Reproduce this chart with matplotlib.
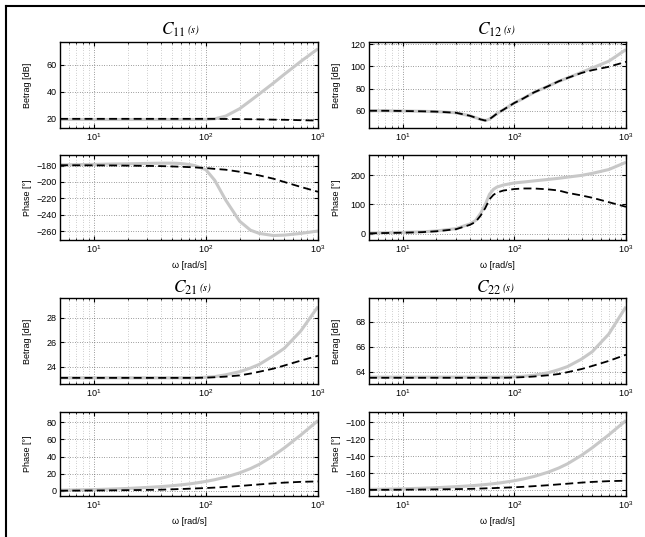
import numpy as np
import matplotlib
matplotlib.use('Agg')
import matplotlib.pyplot as plt
from matplotlib.lines import Line2D

plt.rcParams['font.family'] = ['Liberation Sans', 'DejaVu Sans']
plt.rcParams['font.size'] = 6.5

# frequency points (rad/s)
w = [5, 7, 10, 15, 20, 30, 40, 45, 50, 55, 60, 65, 70, 80, 100, 120, 150,
     200, 250, 300, 400, 500, 700, 1000]

# C11
c11_mag_gray = [19.5, 19.5, 19.5, 19.5, 19.5, 19.5, 19.5, 19.5, 19.5, 19.5, 19.5, 19.5,
                19.5, 19.5, 19.6, 20.0, 22.0, 27.5, 33.5, 38.5, 46.5, 53, 62.5, 72]
c11_mag_black = [20, 20, 20, 20, 20, 20, 20, 20, 20, 20, 20, 20,
                 20, 20, 20, 19.95, 19.9, 19.8, 19.7, 19.6, 19.4, 19.3, 19.0, 18.7]
c11_ph_gray = [-179, -178.8, -178.5, -178, -177.8, -177.3, -177, -177, -177, -177.2, -177.5, -178,
               -178.5, -180, -185, -198, -222, -248, -259, -263, -265.5, -265, -263, -260]
c11_ph_black = [-179.5, -179.6, -179.7, -179.8, -180, -180.3, -180.6, -180.8, -181, -181.2, -181.4, -181.6,
                -181.8, -182.2, -183, -184, -185, -187.5, -190, -192, -196, -200, -206, -212]

# C12
c12_mag_gray = [60, 60, 59.8, 59.5, 59.2, 58.2, 55.5, 53.8, 52.2, 51.2, 52.5, 55,
                57.5, 61, 67, 71, 76.5, 82, 86.5, 89.5, 94.5, 98.5, 104.5, 115]
c12_mag_black = [60, 60, 59.8, 59.5, 59.2, 58.2, 55.5, 53.8, 52.2, 51.2, 52.5, 55,
                 57.5, 61, 67, 71, 76.5, 82, 86.5, 89.5, 94, 96.5, 99.5, 104]
c12_ph_gray = [2, 3, 4, 6, 9, 17, 33, 45, 70, 100, 135, 152,
               160, 167, 174, 177, 181, 186, 190, 194, 200, 207, 220, 245]
c12_ph_black = [1, 2, 3, 5, 8, 15, 30, 40, 62, 88, 118, 133,
                141, 148, 153, 155, 155, 152, 148, 140, 131, 123, 108, 92]

# C21
c21_mag_gray = [23.1, 23.1, 23.1, 23.1, 23.1, 23.1, 23.1, 23.1, 23.1, 23.1, 23.1, 23.1,
                23.1, 23.1, 23.15, 23.2, 23.35, 23.6, 23.9, 24.2, 24.9, 25.5, 26.9, 28.9]
c21_mag_black = [23.1, 23.1, 23.1, 23.1, 23.1, 23.1, 23.1, 23.1, 23.1, 23.1, 23.1, 23.1,
                 23.1, 23.1, 23.12, 23.15, 23.2, 23.3, 23.45, 23.6, 23.85, 24.1, 24.5, 24.9]
c21_ph_gray = [0.8, 1.1, 1.5, 2.2, 2.8, 4, 5, 5.5, 6, 6.5, 7, 7.5,
               8, 9, 11, 13, 16, 21, 26, 31, 41, 50, 65, 82]
c21_ph_black = [0.2, 0.3, 0.4, 0.6, 0.8, 1.1, 1.4, 1.6, 1.8, 2.0, 2.2, 2.3,
                2.5, 2.8, 3.3, 3.8, 4.6, 5.7, 6.7, 7.5, 8.8, 9.6, 10.5, 11]

# C22
c22_mag_gray = [63.55, 63.55, 63.55, 63.55, 63.55, 63.55, 63.55, 63.55, 63.55, 63.55, 63.55, 63.55,
                63.55, 63.55, 63.58, 63.62, 63.7, 63.9, 64.15, 64.4, 65.0, 65.6, 67.0, 69.2]
c22_mag_black = [63.5, 63.5, 63.5, 63.5, 63.5, 63.5, 63.5, 63.5, 63.5, 63.5, 63.5, 63.5,
                 63.5, 63.5, 63.52, 63.55, 63.6, 63.7, 63.8, 63.95, 64.2, 64.45, 64.85, 65.35]
c22_ph_gray = [-179.2, -178.9, -178.5, -177.8, -177.2, -176, -175, -174.5, -174, -173.5, -173, -172.5,
               -172, -171, -169, -167, -164, -159, -154, -149, -139, -130, -115, -98]
c22_ph_black = [-179.8, -179.7, -179.6, -179.4, -179.2, -178.9, -178.6, -178.4, -178.2, -178, -177.8, -177.7,
                -177.5, -177.2, -176.7, -176.2, -175.4, -174.3, -173.3, -172.5, -171.2, -170.4, -169.5, -169]

titles = ['11', '12', '21', '22']
mag_gray = [c11_mag_gray, c12_mag_gray, c21_mag_gray, c22_mag_gray]
mag_black = [c11_mag_black, c12_mag_black, c21_mag_black, c22_mag_black]
ph_gray = [c11_ph_gray, c12_ph_gray, c21_ph_gray, c22_ph_gray]
ph_black = [c11_ph_black, c12_ph_black, c21_ph_black, c22_ph_black]

mag_ylim = [(13.2, 77), (44.5, 121.8), (22.6, 29.6), (63.0, 69.9)]
mag_ticks = [[20, 40, 60], [60, 80, 100, 120], [24, 26, 28], [64, 66, 68]]
ph_ylim = [(-271, -167), (-22, 270), (-6, 92), (-187, -88)]
ph_ticks = [[-260, -240, -220, -200, -180], [0, 100, 200], [0, 20, 40, 60, 80],
            [-180, -160, -140, -120, -100]]

W, H = 645, 537
fig = plt.figure(figsize=(W / 100, H / 100), dpi=100)

col_left = [60, 369]
col_width = [258, 257]
# (top, bottom) in pixels for mag / phase rows, upper and lower block
rows = [((42, 128), (155, 240)), ((298, 384), (412, 496))]
# title left edge and baseline in pixels
title_x = [161, 477, 173, 476]
title_y = [34.5, 34.5, 292.5, 292.5]


def px_rect(x0, wpx, top, bot):
    return [x0 / W, 1 - bot / H, wpx / W, (bot - top) / H]


def style(ax, ylim, yticks):
    ax.set_xscale('log')
    ax.set_xlim(5, 1000)
    ax.set_ylim(*ylim)
    ax.set_yticks(yticks)
    ax.tick_params(which='both', direction='in', top=True, right=True, labelsize=6.5, pad=2.5)
    ax.tick_params(which='major', length=3)
    ax.tick_params(which='minor', length=1.5)
    ax.grid(True, which='major', linestyle=(0, (1, 2.5)), color='0.25', linewidth=0.5)
    ax.grid(True, which='minor', axis='x', linestyle=(0, (1, 3)), color='0.55', linewidth=0.45)
    ax.yaxis.set_label_coords(-0.11, 0.5)
    for s in ax.spines.values():
        s.set_linewidth(1.0)


for i in range(4):
    r, c = divmod(i, 2)
    (mt, mb), (pt, pb) = rows[r]
    axm = fig.add_axes(px_rect(col_left[c], col_width[c], mt, mb))
    axp = fig.add_axes(px_rect(col_left[c], col_width[c], pt, pb))

    axm.plot(w, mag_gray[i], color='#c8c8c8', lw=2.2, solid_capstyle='butt')
    axm.plot(w, mag_black[i], color='black', lw=1.3, dashes=(4.4, 2.4))
    axp.plot(w, ph_gray[i], color='#c8c8c8', lw=2.2, solid_capstyle='butt')
    axp.plot(w, ph_black[i], color='black', lw=1.3, dashes=(4.4, 2.4))

    style(axm, mag_ylim[i], mag_ticks[i])
    style(axp, ph_ylim[i], ph_ticks[i])
    axm.set_ylabel('Betrag [dB]', fontsize=6.5)
    axp.set_ylabel('Phase [°]', fontsize=6.5)
    axp.set_xlabel('ω [rad/s]', fontsize=6.5, labelpad=4.5)

    tx, ty = title_x[i] / W, 1 - title_y[i] / H
    t = fig.text(tx, ty, r'$C_{%s}$' % titles[i], ha='left', va='baseline',
                 fontsize=12.5, math_fontfamily='stix')
    fig.canvas.draw()
    bb = t.get_window_extent()
    fig.text(bb.x1 / W + 1.5 / W, ty + 1.2 / H, '(s)', ha='left', va='baseline',
             fontsize=8, family='STIXGeneral', style='italic')

# figure frame (only top and left edges are visible in the crop)
fig.add_artist(Line2D([5.5 / W, 1], [1 - 5.5 / H, 1 - 5.5 / H], color='black', lw=1.5,
                      transform=fig.transFigure))
fig.add_artist(Line2D([5.5 / W, 5.5 / W], [0, 1 - 5.5 / H], color='black', lw=1.5,
                      transform=fig.transFigure))

fig.savefig('out.png', dpi=100, facecolor='white')
